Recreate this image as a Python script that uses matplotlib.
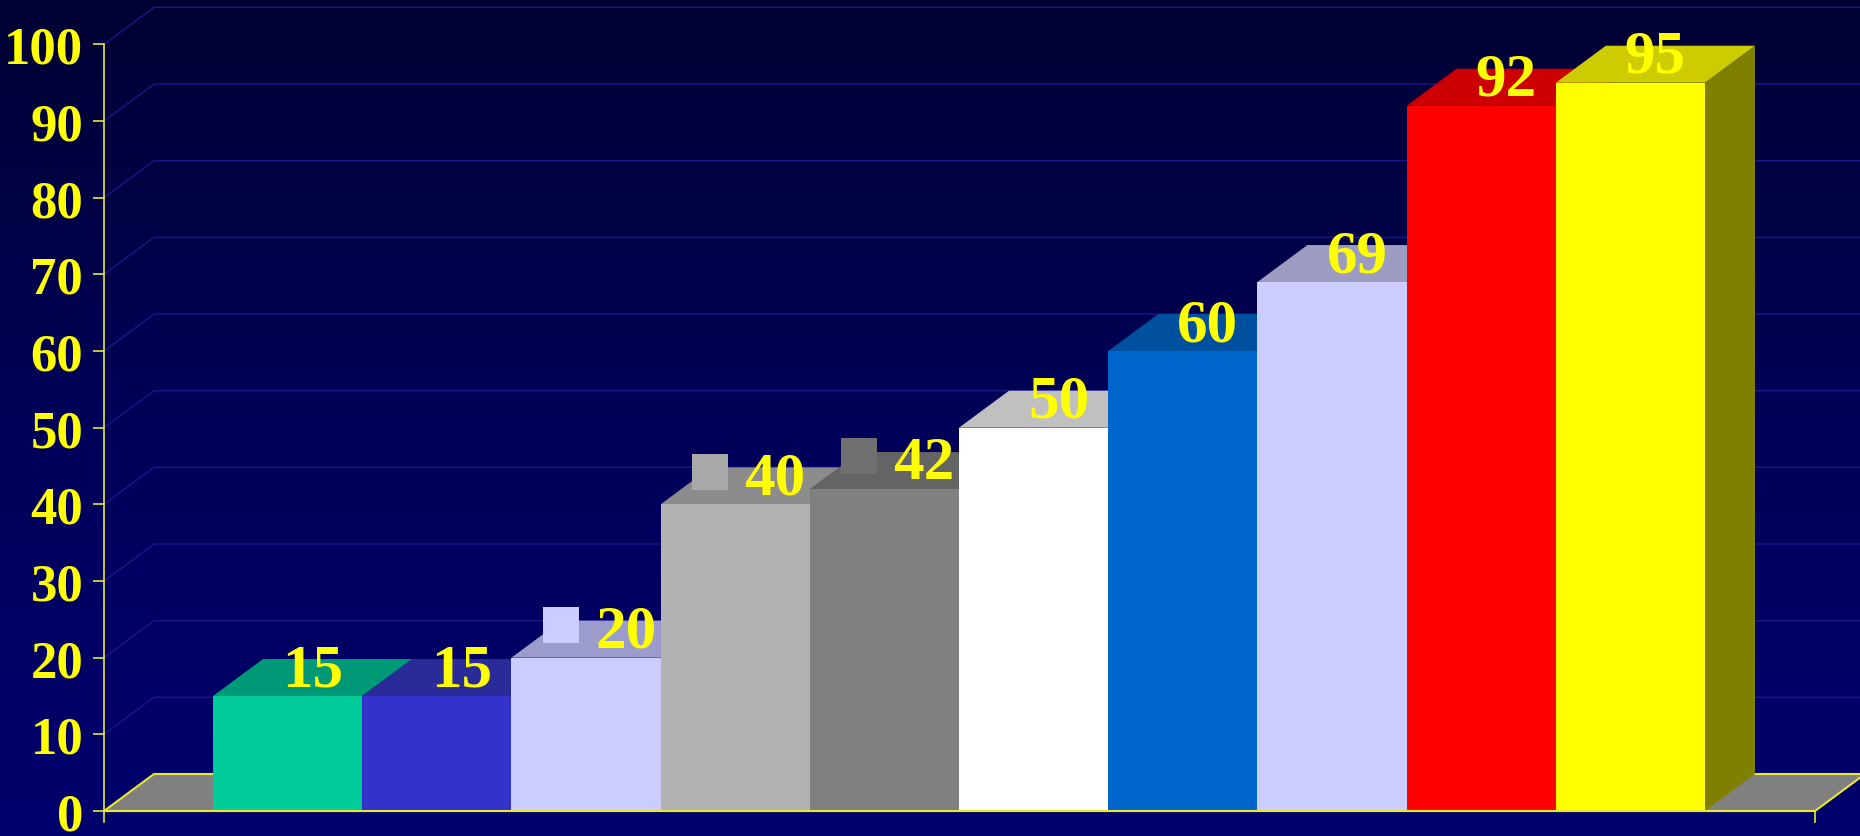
import numpy as np
import matplotlib
matplotlib.use("Agg")
import matplotlib.pyplot as plt
from matplotlib.patches import Polygon
from matplotlib.colors import LinearSegmentedColormap

# ---- data ----
values = [15, 15, 20, 40, 42, 50, 60, 69, 92, 95]
labels = ["15", "15", "20", "40", "42", "50", "60", "69", "92", "95"]
front_colors = ["#00CC99", "#3333CC", "#CCCCFF", "#B2B2B2", "#808080",
                "#FFFFFF", "#0066CC", "#CCCCFF", "#FF0000", "#FFFF00"]
top_colors = ["#009977", "#2A2A99", "#9C9CCC", "#8C8C8C", "#646464",
              "#C0C0C0", "#0050A0", "#9C9CC0", "#CC0000", "#CCCC00"]
side_colors = ["#006650", "#1A1A66", "#66669A", "#595959", "#404040",
               "#808080", "#003366", "#66668A", "#800000", "#808000"]
key_colors = [None, None, "#CCCCFF", "#A8A8A8", "#707070",
              None, None, None, None, None]
yticks = [0, 10, 20, 30, 40, 50, 60, 70, 80, 90, 100]

# ---- geometry (pixel mapping) ----
W, H, DPI = 1860, 837, 100
px_x0, px_per_cat = 213.0, 149.2      # left of first bar, bar width in px
px_y0, px_per_unit = 812.0, 7.666     # y pixel of value 0, px per unit
DX = 50.0 / px_per_cat                 # depth offset in x (data)
DY = 37.0 / px_per_unit                # depth offset in y (data)
x_axis = (104.0 - px_x0) / px_per_cat
x_floor_r = (1815.0 - px_x0) / px_per_cat

xlim = (-px_x0 / px_per_cat, (W - px_x0) / px_per_cat)
ylim = (-(H - px_y0) / px_per_unit, px_y0 / px_per_unit)

fig = plt.figure(figsize=(W / DPI, H / DPI), dpi=DPI)
ax = fig.add_axes([0, 0, 1, 1])
ax.set_xlim(*xlim)
ax.set_ylim(*ylim)

# background gradient (dark at top, brighter navy at bottom)
cmap = LinearSegmentedColormap.from_list("bg", ["#000033", "#000058", "#00006E"])
grad = np.linspace(0, 1, 256).reshape(-1, 1)
ax.imshow(grad, cmap=cmap, extent=(xlim[0], xlim[1], ylim[0], ylim[1]),
          aspect="auto", zorder=0, origin="upper")

# back-wall gridlines
for v in yticks[1:]:
    ax.plot([x_axis, x_axis + DX, xlim[1]], [v, v + DY, v + DY],
            color="#18188C", lw=1.0, zorder=1, solid_capstyle="butt")

# floor
floor = Polygon([(x_axis, 0), (x_floor_r, 0), (x_floor_r + DX, DY),
                 (x_axis + DX, DY)], closed=True, facecolor="#808080",
                edgecolor="#E8E830", lw=1.5, zorder=2)
ax.add_patch(floor)
ax.plot([x_floor_r, x_floor_r], [0, -1.4], color="#E8E830", lw=1.2, zorder=2)

label_font = dict(family=["Liberation Serif", "DejaVu Serif"], weight="bold",
                  size=44, color="#FFFF00")

# bars
z = 3
for i, v in enumerate(values):
    side = Polygon([(i + 1, 0), (i + 1 + DX, DY), (i + 1 + DX, v + DY), (i + 1, v)],
                   closed=True, facecolor=side_colors[i], edgecolor="none", zorder=z)
    top = Polygon([(i, v), (i + 1, v), (i + 1 + DX, v + DY), (i + DX, v + DY)],
                  closed=True, facecolor=top_colors[i], edgecolor="none", zorder=z + 0.1)
    ax.add_patch(side)
    ax.add_patch(top)
    ax.bar(i, v, width=1.0, align="edge", color=front_colors[i],
           edgecolor="none", zorder=z + 0.2)
    cx = i + 0.5 + DX / 2
    base = v + DY / 2 - 1.0
    if key_colors[i] is not None:
        tx = cx - 16.0 / px_per_cat
        ax.text(tx, base, labels[i], ha="left", va="baseline",
                zorder=z + 0.3, **label_font)
        ax.plot([tx - 34.0 / px_per_cat], [base + 22.0 / px_per_unit], marker="s",
                markersize=26, color=key_colors[i], markeredgewidth=0,
                linestyle="none", zorder=z + 0.3)
    else:
        ax.text(cx, base, labels[i], ha="center", va="baseline",
                zorder=z + 0.3, **label_font)
    z += 1

# y axis
for s in ["top", "right", "bottom"]:
    ax.spines[s].set_visible(False)
ax.spines["left"].set_position(("data", x_axis))
ax.spines["left"].set_bounds(-1.4, 100)
ax.spines["left"].set_color("#E8E830")
ax.spines["left"].set_linewidth(1.2)
ax.spines["left"].set_zorder(50)
ax.set_xticks([])
ax.set_yticks(yticks)
ax.set_yticklabels([str(t) for t in yticks])
ax.tick_params(axis="y", direction="out", length=8, width=1.2, color="#E8E830",
               pad=7, labelcolor="#FFFF00")
for lab in ax.get_yticklabels():
    lab.set_fontfamily(["Liberation Serif", "DejaVu Serif"])
    lab.set_fontweight("bold")
    lab.set_fontsize(38)
# bottom yellow front edge of floor over everything
ax.plot([x_axis, x_floor_r], [0, 0], color="#E8E830", lw=1.5, zorder=40)

fig.savefig("out.png", dpi=DPI)
